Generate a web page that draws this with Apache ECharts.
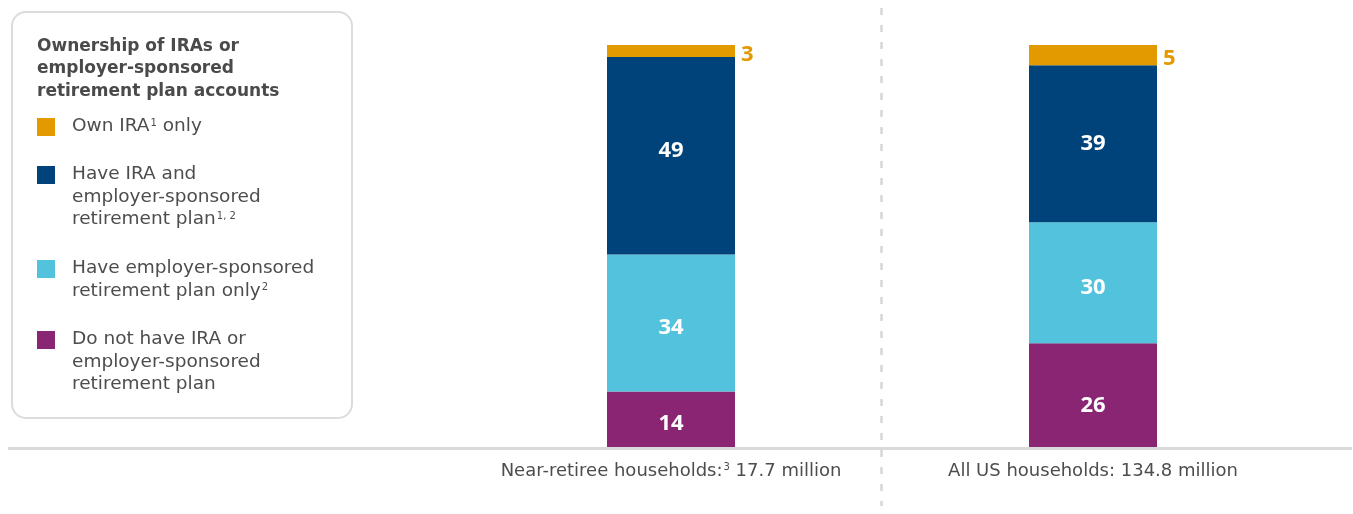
<!DOCTYPE html>
<html>
<head>
<meta charset="utf-8">
<script src="https://cdn.jsdelivr.net/npm/echarts@6/dist/echarts.min.js"></script>
<style>
  html, body { margin: 0; padding: 0; background: #ffffff; }
  #chart { width: 1353px; height: 514px; }
</style>
</head>
<body>
<div id="chart"></div>
<script>
// Household groups along the x axis
const categories = ['Near-retiree households', 'All US households'];
const tickLabels = [
  'Near-retiree households:{sup|3} 17.7 million',
  'All US households: 134.8 million'
];

// Shares of households (percent), bottom segment first
const noPlan = [14, 26];
const planOnly = [34, 30];
const iraAndPlan = [49, 39];
const iraOnly = [3, 5];

// Legend entries (top to bottom), rich-text markup for footnote marks
const legendTitle = 'Ownership of IRAs or\nemployer-sponsored\nretirement plan accounts';
const legendLabels = [
  'Own IRA{sup|1} only',
  'Have IRA and\nemployer-sponsored\nretirement plan{sup|1, 2}',
  'Have employer-sponsored\nretirement plan only{sup|2}',
  'Do not have IRA or\nemployer-sponsored\nretirement plan'
];

const COLORS = {
  iraOnly: '#E39A00',
  iraAndPlan: '#00437A',
  planOnly: '#52C2DD',
  noPlan: '#8A2574'
};
const legendColors = [COLORS.iraOnly, COLORS.iraAndPlan, COLORS.planOnly, COLORS.noPlan];

const FONT = '"DejaVu Sans", "Open Sans", sans-serif';
const BOLD_FONT = '"Open Sans", "DejaVu Sans", sans-serif';
const TEXT = '#4d4d4d';

const chart = echarts.init(document.getElementById('chart'), null, { renderer: 'canvas' });

const insideLabel = {
  show: true,
  position: 'inside',
  color: '#ffffff',
  fontFamily: BOLD_FONT,
  fontWeight: 'bold',
  fontSize: 22
};

// vertical nudges of the in-bar value labels, per bar
function withLabelShift(values, shifts) {
  return values.map(function (v, i) {
    return { value: v, label: { offset: [0, shifts[i]] } };
  });
}

function barSeries(name, data, color, label) {
  return {
    name: name,
    type: 'bar',
    stack: 'share',
    barWidth: 128,
    data: data,
    itemStyle: { color: color },
    label: label,
    emphasis: { disabled: true },
    animation: false
  };
}

// Legend panel drawn as graphic elements
const legendTops = [115, 163, 257, 328];
const legendGraphics = [
  {
    type: 'rect',
    shape: { x: 12, y: 12, width: 340, height: 406, r: 14 },
    style: { fill: '#ffffff', stroke: '#dcdcdc', lineWidth: 2 },
    z: 10
  },
  {
    type: 'text',
    x: 37, y: 35,
    style: {
      text: legendTitle,
      fill: '#4a4a4a',
      font: 'bold 17px ' + FONT,
      lineHeight: 22.5,
      verticalAlign: 'top'
    },
    z: 11
  }
];
legendLabels.forEach(function (lbl, i) {
  legendGraphics.push({
    type: 'rect',
    shape: { x: 37, y: legendTops[i] + 3, width: 18, height: 18 },
    style: { fill: legendColors[i] },
    z: 11
  });
  legendGraphics.push({
    type: 'text',
    x: 72, y: legendTops[i],
    style: {
      text: lbl,
      fill: TEXT,
      fontFamily: FONT,
      fontSize: 18.5,
      lineHeight: 22.5,
      verticalAlign: 'top',
      rich: {
        sup: { fontSize: 10, fontFamily: FONT, fill: TEXT, verticalAlign: 'top', lineHeight: 22.5, padding: [3, 0, 0, 1] }
      }
    },
    z: 11
  });
});

chart.setOption({
  backgroundColor: '#ffffff',
  animation: false,
  grid: { left: 460, right: 49, top: 45, bottom: 66 },
  xAxis: {
    type: 'category',
    data: categories,
    axisLine: { show: false },
    axisTick: { show: false },
    axisLabel: {
      interval: 0,
      margin: 14,
      color: TEXT,
      fontFamily: FONT,
      fontSize: 18,
      formatter: function (v, idx) { return tickLabels[idx]; },
      rich: {
        sup: { fontSize: 10, color: TEXT, fontFamily: FONT, verticalAlign: 'top', padding: [0, 0, 0, 1] }
      }
    }
  },
  yAxis: {
    type: 'value',
    min: 0,
    max: 100,
    show: false,
    splitLine: { show: false }
  },
  series: [
    barSeries('Do not have IRA or employer-sponsored retirement plan', withLabelShift(noPlan, [4, 10]), COLORS.noPlan, insideLabel),
    barSeries('Have employer-sponsored retirement plan only', withLabelShift(planOnly, [5, 5]), COLORS.planOnly, insideLabel),
    barSeries('Have IRA and employer-sponsored retirement plan', withLabelShift(iraAndPlan, [-5, 0]), COLORS.iraAndPlan, insideLabel),
    barSeries('Own IRA only', iraOnly, COLORS.iraOnly, {
      show: true,
      position: 'right',
      distance: 6,
      color: COLORS.iraOnly,
      fontFamily: BOLD_FONT,
      fontWeight: 'bold',
      fontSize: 22,
      offset: [0, 4]
    })
  ],
  graphic: [
    // baseline across the chart
    {
      type: 'line',
      shape: { x1: 8, y1: 448.5, x2: 1352, y2: 448.5 },
      style: { stroke: '#d9d9d9', lineWidth: 3 },
      z: 5
    },
    // dashed divider between the two groups
    {
      type: 'line',
      shape: { x1: 881.5, y1: 8, x2: 881.5, y2: 506 },
      style: { stroke: '#d6d6d6', lineWidth: 2.5, lineDash: [7, 10] },
      z: 4
    }
  ].concat(legendGraphics)
});
</script>
</body>
</html>
